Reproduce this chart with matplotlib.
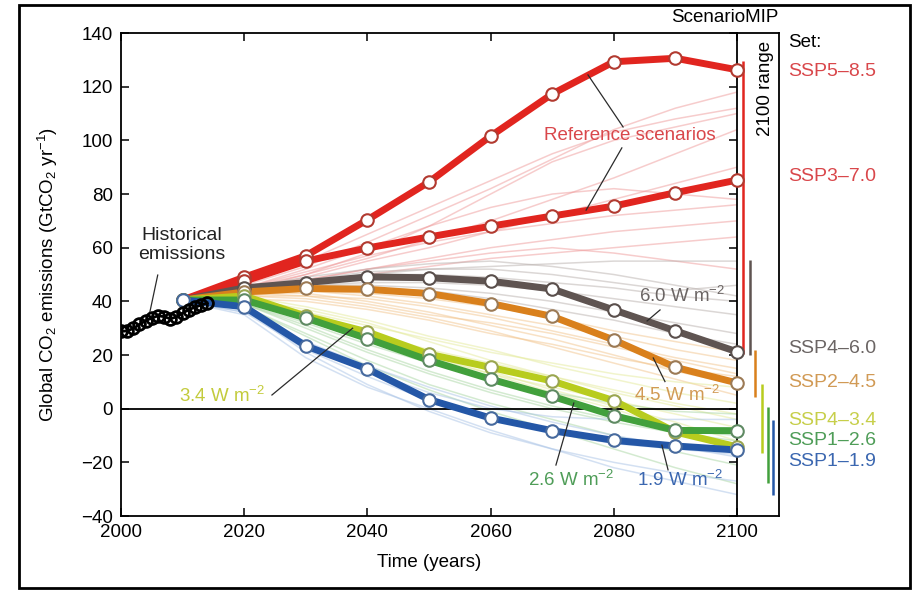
import matplotlib
matplotlib.use("Agg")
import matplotlib.pyplot as plt
from matplotlib.patches import Rectangle

plt.rcParams['font.family'] = ['Liberation Sans', 'DejaVu Sans']
plt.rcParams['mathtext.fontset'] = 'custom'
plt.rcParams['mathtext.rm'] = 'Liberation Sans'
plt.rcParams['mathtext.it'] = 'Liberation Sans:italic'
plt.rcParams['mathtext.default'] = 'regular'

# historical emissions (GtCO2/yr)
hist_years = list(range(2000, 2015))
hist_co2 = [28.8, 29.0, 29.9, 31.4, 32.8, 33.8, 34.6, 34.3, 33.5, 34.2,
            35.6, 36.9, 37.8, 38.6, 39.4]

# marker scenarios, one value per decade
years = [2010, 2020, 2030, 2040, 2050, 2060, 2070, 2080, 2090, 2100]
ssp585 = [40.5, 49.0, 57.0, 70.4, 84.5, 101.6, 117.3, 129.3, 130.6, 126.3]
ssp370 = [40.5, 47.5, 55.0, 59.9, 64.0, 68.0, 71.8, 75.5, 80.5, 85.2]
ssp460 = [40.5, 45.0, 47.0, 49.1, 48.8, 47.5, 44.6, 36.8, 29.0, 21.2]
ssp245 = [40.5, 43.5, 44.8, 44.5, 42.9, 39.2, 34.4, 25.6, 15.4, 9.6]
ssp434 = [40.5, 42.0, 34.5, 28.6, 20.3, 15.4, 10.3, 3.0, -8.7, -14.2]
ssp126 = [40.5, 40.5, 33.8, 26.1, 18.0, 11.0, 4.6, -2.6, -8.1, -8.2]
ssp119 = [40.5, 38.0, 23.4, 14.8, 3.4, -3.5, -8.2, -11.8, -13.9, -15.4]

# other scenarios of each set
other_ref = [
    [40, 46, 53, 62, 72, 82, 93, 104, 112, 118],
    [40, 47, 55, 65, 75, 85, 95, 103, 108, 112],
    [40, 45, 50, 56, 63, 70, 78, 86, 95, 104],
    [40, 44, 49, 55, 60, 66, 72, 78, 84, 90],
    [40, 45, 51, 57, 62, 66, 69, 72, 74, 76],
    [40, 44, 48, 52, 56, 60, 63, 66, 68, 70],
    [40, 43, 46, 50, 53, 56, 58, 60, 62, 64],
    [40, 44, 48, 52, 55, 58, 60, 58, 55, 52],
    [40, 45, 52, 60, 68, 75, 80, 82, 80, 78],
    [40, 44, 50, 58, 68, 80, 92, 100, 105, 110],
]
other_60 = [
    [40, 44, 47, 50, 52, 53, 54, 55, 55, 55],
    [40, 45, 48, 50, 50, 49, 47, 45, 42, 40],
    [40, 43, 46, 47, 47, 46, 44, 41, 38, 35],
    [40, 44, 46, 46, 45, 43, 40, 36, 32, 28],
    [40, 43, 45, 45, 44, 41, 37, 33, 28, 24],
    [40, 44, 48, 51, 52, 52, 50, 47, 44, 46],
    [40, 45, 49, 52, 54, 55, 53, 50, 46, 42],
]
other_45 = [
    [40, 43, 44, 43, 41, 38, 34, 29, 25, 21],
    [40, 42, 42, 41, 38, 34, 29, 24, 19, 15],
    [40, 43, 43, 40, 36, 31, 26, 20, 14, 9],
    [40, 42, 41, 38, 34, 29, 23, 17, 11, 5],
    [40, 41, 40, 37, 33, 28, 24, 19, 15, 12],
    [40, 42, 44, 42, 39, 35, 31, 27, 22, 18],
    [40, 43, 42, 39, 35, 32, 28, 23, 18, 13],
]
other_34 = [
    [40, 41, 36, 31, 26, 21, 17, 13, 10, 8],
    [40, 41, 35, 28, 22, 17, 12, 7, 2, -2],
    [40, 40, 33, 26, 19, 13, 8, 3, -2, -7],
    [40, 41, 36, 29, 21, 14, 7, 1, -5, -12],
    [40, 40, 34, 27, 20, 13, 6, 0, -8, -16],
    [40, 42, 38, 33, 27, 22, 16, 11, 6, 2],
    [40, 41, 37, 32, 25, 18, 12, 6, 1, -4],
]
other_26 = [
    [40, 39, 32, 24, 17, 11, 6, 2, -1, -2],
    [40, 39, 30, 21, 13, 6, 0, -5, -9, -12],
    [40, 38, 28, 18, 9, 2, -4, -10, -16, -21],
    [40, 38, 27, 16, 7, -1, -8, -15, -22, -28],
    [40, 39, 31, 22, 14, 7, 1, -4, -8, -10],
]
other_19 = [
    [40, 37, 24, 14, 6, 0, -3, -4, -4, -4],
    [40, 36, 22, 12, 3, -4, -9, -13, -15, -17],
    [40, 37, 21, 9, -1, -9, -15, -20, -24, -27],
    [40, 35, 19, 8, 0, -8, -15, -22, -27, -32],
    [40, 36, 25, 16, 8, 1, -5, -10, -14, -18],
]

# 2100 range of each set
set_names = ['SSP5\u20138.5', 'SSP3\u20137.0', 'SSP4\u20136.0', 'SSP2\u20134.5',
             'SSP4\u20133.4', 'SSP1\u20132.6', 'SSP1\u20131.9']
range_lo = [20.5, 20.0, 4.4, -16.5, -27.7, -32.0]
range_hi = [129.5, 55.5, 21.8, 9.2, 0.6, -4.2]

c_red = '#e1251f'
c_grey = '#5f5451'
c_orange = '#d9801c'
c_yellow = '#b8cc1e'
c_green = '#42a03c'
c_blue = '#2457a7'

fig = plt.figure(figsize=(9.14, 5.90), dpi=100)
axr = fig.add_axes([0.8064, 0.1254, 0.0460, 0.8186])
ax = fig.add_axes([0.1324, 0.1254, 0.6740, 0.8186], sharey=axr)
ax.patch.set_visible(False)

# faint background scenarios
faint = [(other_ref, '#ef9a9a'), (other_60, '#b9b0ad'), (other_45, '#f2c48c'),
         (other_34, '#e4ea9a'), (other_26, '#a9d6a3'), (other_19, '#a9c3e6')]
for group, col in faint:
    for vals in group:
        ax.plot(years, vals, color=col, lw=1.1, alpha=0.5, zorder=1)

ax.axhline(0, color='black', lw=1.3, zorder=2)

scen = [(ssp585, c_red, '#b23a30'), (ssp370, c_red, '#b23a30'),
        (ssp460, c_grey, '#5a4f4c'), (ssp245, c_orange, '#9c7a55'),
        (ssp434, c_yellow, '#9aa650'), (ssp126, c_green, '#5f8a63'),
        (ssp119, c_blue, '#476a9e')]
for vals, col, edge in scen:
    ax.plot(years, vals, color=col, lw=5, solid_capstyle='round', zorder=3)
    ax.plot(years, vals, 'o', ms=9, mfc='white', mec=edge, mew=1.5, zorder=4,
            clip_on=False)

ax.plot(hist_years, hist_co2, color='black', lw=2, zorder=5)
ax.plot(hist_years, hist_co2, 'o', ms=8.5, mfc='none', mec='black', mew=2, zorder=5)

ax.set_xlim(2000, 2100)
ax.set_ylim(-40, 140)
ax.set_xticks([2000, 2020, 2040, 2060, 2080, 2100])
ax.set_yticks([-40, -20, 0, 20, 40, 60, 80, 100, 120, 140])
ax.set_yticklabels(['\u221240', '\u221220', '0', '20', '40', '60', '80', '100', '120', '140'])
ax.tick_params(direction='in', length=6, width=1.1, labelsize=13.5,
               top=True, right=True, pad=6)
for sp in ax.spines.values():
    sp.set_linewidth(1.3)
ax.set_xlabel('Time (years)', fontsize=13.5, labelpad=9)
ax.set_ylabel('Global CO$_2$ emissions (GtCO$_2$ yr$^{-1}$)', fontsize=13.5, labelpad=15)

# annotations
lc = '#2b2b2b'
ax.text(2009.9, 61, 'Historical\nemissions', fontsize=14, ha='center', va='center',
        color='#222222', zorder=6)
ax.plot([2005.96, 2004.7], [49.8, 36.2], color=lc, lw=0.9, zorder=6)

ax.text(2082.6, 102, 'Reference scenarios', fontsize=13.5, ha='center', va='center',
        color='#d9474b', zorder=6)
ax.plot([2081.5, 2075.8], [105, 124.4], color=lc, lw=0.9, zorder=6)
ax.plot([2081.3, 2075.5], [97.2, 74.0], color=lc, lw=0.9, zorder=6)

ax.text(2091.1, 41.9, '6.0 W m$^{-2}$', fontsize=13.5, ha='center', va='center',
        color='#6b6564', zorder=6)
ax.plot([2087.5, 2085.4], [36.8, 32.7], color=lc, lw=0.9, zorder=6)

ax.text(2090.3, 5.1, '4.5 W m$^{-2}$', fontsize=13.5, ha='center', va='center',
        color='#d19a55', zorder=6)
ax.plot([2088.3, 2086.4], [10.1, 18.9], color=lc, lw=0.9, zorder=6)

ax.text(2073.1, -26.6, '2.6 W m$^{-2}$', fontsize=13.5, ha='center', va='center',
        color='#4f9d58', zorder=6)
ax.plot([2070.6, 2073.5], [-21.0, 2.1], color=lc, lw=0.9, zorder=6)

ax.text(2090.7, -26.6, '1.9 W m$^{-2}$', fontsize=13.5, ha='center', va='center',
        color='#3b67b0', zorder=6)
ax.plot([2088.8, 2087.8], [-22.8, -13.6], color=lc, lw=0.9, zorder=6)

ax.text(2016.4, 4.7, '3.4 W m$^{-2}$', fontsize=13.5, ha='center', va='center',
        color='#c3cb3c', zorder=6)
ax.plot([2024.5, 2037.6], [5.1, 30.0], color=lc, lw=0.9, zorder=6)

# 2100 range panel
axr.set_xlim(0, 1)
axr.tick_params(left=False, labelleft=False, bottom=False, labelbottom=False)
axr.spines['left'].set_visible(False)
for sp in ['top', 'bottom', 'right']:
    axr.spines[sp].set_linewidth(1.3)
bar_x = [0.15, 0.31, 0.43, 0.59, 0.73, 0.865]
bar_cols = [c_red, c_grey, c_orange, c_yellow, c_green, c_blue]
axr.vlines(bar_x, range_lo, range_hi, colors=bar_cols, lw=1.8)
axr.text(0.667, 119.5, '2100 range', rotation=90, fontsize=13.5, ha='center', va='center')

# set labels
axr.text(1.214, 136.6, 'Set:', fontsize=13.5, ha='left', va='center', clip_on=False)
label_y = [125.5, 86.5, 22.5, 9.7, -4.5, -11.9, -19.8]
label_cols = ['#d9474b', '#d9474b', '#6b6564', '#d19a55', '#c7cf4a', '#4f9d58', '#3b67b0']
for name, yv, col in zip(set_names, label_y, label_cols):
    axr.text(1.214, yv, name, fontsize=14, ha='left', va='center', color=col, clip_on=False)

fig.text(0.793, 0.9695, 'ScenarioMIP', fontsize=13.5, ha='center', va='center')

# outer frame
fig.patches.append(Rectangle((0.0208, 0.0034), 0.9748, 0.988, transform=fig.transFigure,
                             fill=False, lw=2, edgecolor='black'))

fig.savefig('out.png', dpi=100)
